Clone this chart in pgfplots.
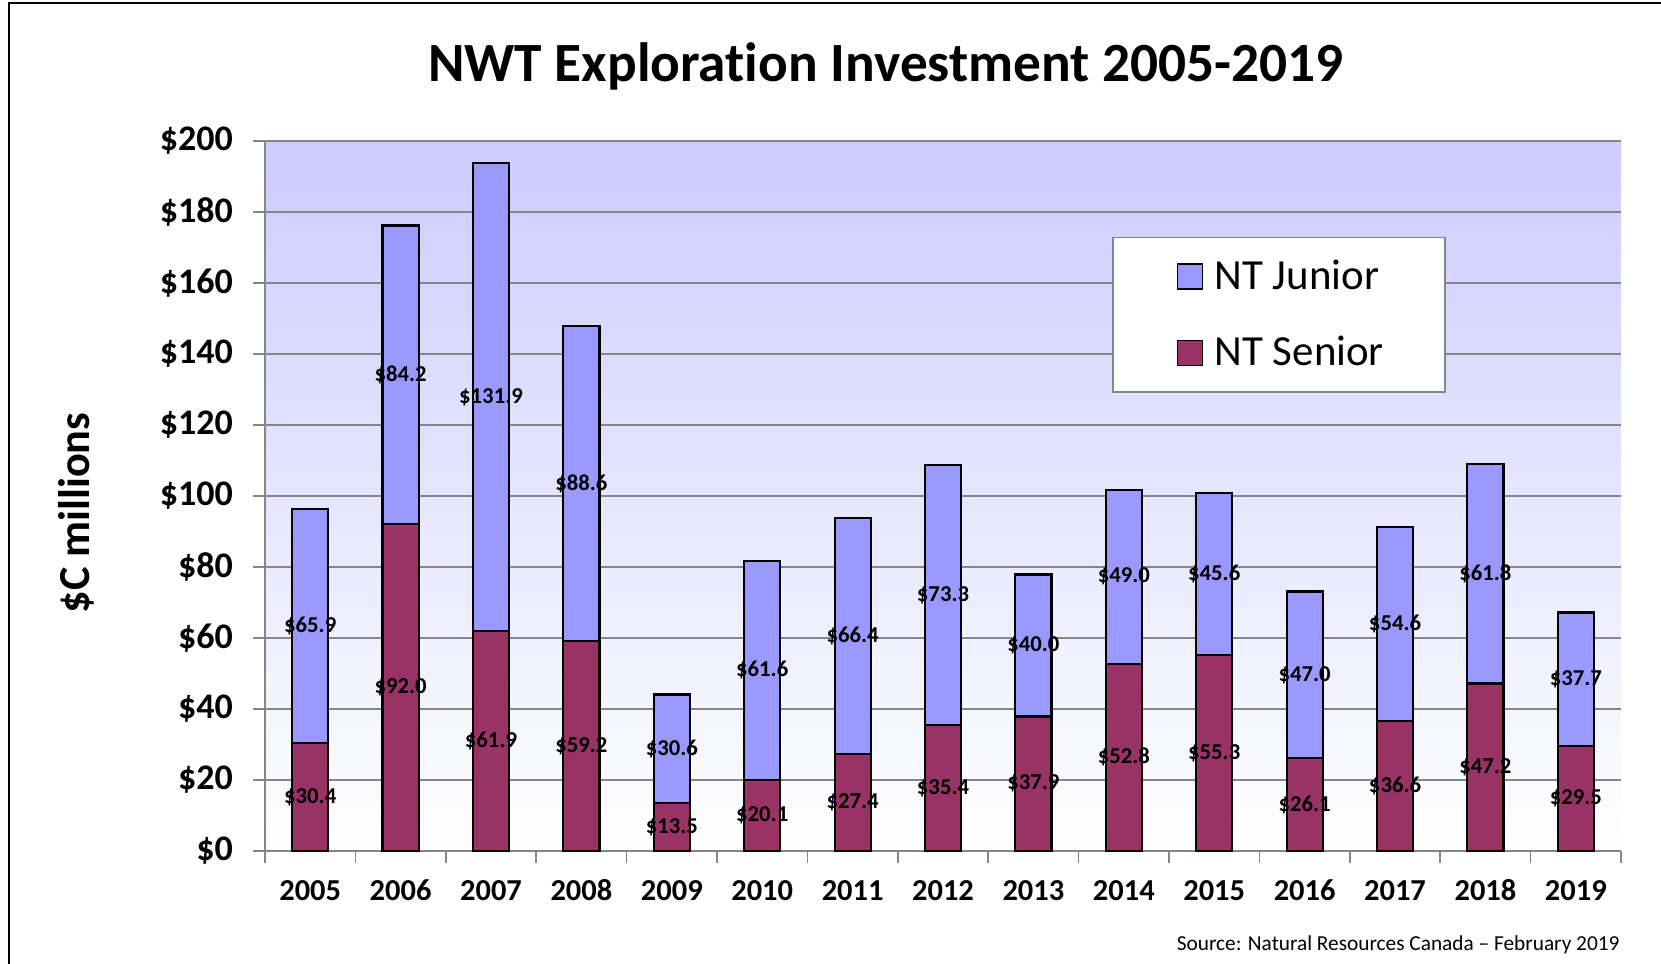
\documentclass[border=0pt]{standalone}
\usepackage{fontspec}
\setmainfont{Carlito}[Ligatures=NoCommon]
\usepackage{pgfplots}
\usepackage{pgfplotstable}
\pgfplotsset{compat=1.18}
\pgfkeys{/pgf/number format/assume math mode=true}
\definecolor{junior}{RGB}{153,153,255}
\definecolor{senior}{RGB}{153,51,102}
\definecolor{bgtop}{RGB}{204,204,255}
\definecolor{gridc}{RGB}{134,134,134}

\pgfplotstableread{
x s j
0 30.4 65.9
1 92.0 84.2
2 61.9 131.9
3 59.2 88.6
4 13.5 30.6
5 20.1 61.6
6 27.4 66.4
7 35.4 73.3
8 37.9 40.0
9 52.8 49.0
10 55.3 45.6
11 26.1 47.0
12 36.6 54.6
13 47.2 61.8
14 29.5 37.7
}\data

\begin{document}
\begin{tikzpicture}
\useasboundingbox (0,0) rectangle (600pt,-348.22pt);
\draw[black, line width=0.7pt] (3.25pt,-348.22pt) -- (3.25pt,-1.08pt) -- (600pt,-1.08pt);
\node[font=\fontsize{20}{24}\selectfont\bfseries] at (320.05pt,-23.9pt) {NWT Exploration Investment 2005-2019};
\node[rotate=90, font=\fontsize{16}{19}\selectfont\bfseries] at (27.45pt,-185.31pt) {\$C millions};
\node[anchor=base east, font=\fontsize{7.7}{9}\selectfont, inner sep=0pt] at (585.19pt,-343.42pt) {Source: Natural Resources Canada – February 2019};
\begin{axis}[
  at={(95.73pt,-307.41pt)}, anchor=south west,
  scale only axis, width=489.83pt, height=256.47pt,
  xmin=-0.5, xmax=14.5, ymin=0, ymax=200,
  axis lines*=left,
  axis line style={gridc, line width=0.8pt},
  axis background/.style={shade, top color=bgtop, bottom color=white},
  xtick={0,...,14},
  xticklabels={2005,2006,2007,2008,2009,2010,2011,2012,2013,2014,2015,2016,2017,2018,2019},
  major x tick style={draw=none},
  minor xtick={-0.5,0.5,...,14.5},
  ytick={0,20,...,200},
  yticklabels={\$0,\$20,\$40,\$60,\$80,\$100,\$120,\$140,\$160,\$180,\$200},
  tick align=outside,
  major tick length=4.3pt, minor tick length=4.3pt,
  tick style={gridc, line width=0.6pt},
  ymajorgrids, y grid style={gridc, line width=0.6pt},
  yticklabel style={font=\fontsize{13}{15}\selectfont\bfseries, xshift=-3.8pt},
  xticklabel style={font=\fontsize{11}{13}\selectfont\bfseries, text height=7.2pt, text depth=0pt, yshift=-3pt},
  legend style={at={(axis cs:8.87,173.1)}, anchor=north west, draw=gridc, fill=white,
    font=\fontsize{15.5}{18}\selectfont, inner xsep=20pt, inner ysep=6pt, row sep=11.5pt,
    line width=0.6pt},
  legend cell align=left,
  legend image code/.code={\path (0pt,0pt) (14pt,0pt); \draw[#1, draw=black, line width=0.6pt] (3pt,-4.5pt) rectangle (12pt,4.5pt);},
]
\addplot[ybar, bar width=0.4, bar shift=0pt, fill=junior, draw=black, line width=0.75pt]
  table[x=x, y expr=\thisrow{s}+\thisrow{j}] {\data};
\addlegendentry{NT Junior}
\addplot[ybar, bar width=0.4, bar shift=0pt, fill=senior, draw=black, line width=0.75pt]
  table[x=x, y=s] {\data};
\addlegendentry{NT Senior}
\addplot[draw=none, mark=none, forget plot, point meta=explicit,
  nodes near coords={\$\pgfmathprintnumber[fixed,fixed zerofill,precision=1]{\pgfplotspointmeta}},
  every node near coord/.append style={font=\fontsize{8.2}{9}\selectfont\bfseries, anchor=center, inner sep=0pt}]
  table[x=x, y expr=\thisrow{s}/2, meta=s] {\data};
\addplot[draw=none, mark=none, forget plot, point meta=explicit,
  nodes near coords={\$\pgfmathprintnumber[fixed,fixed zerofill,precision=1]{\pgfplotspointmeta}},
  every node near coord/.append style={font=\fontsize{8.2}{9}\selectfont\bfseries, anchor=center, inner sep=0pt}]
  table[x=x, y expr=\thisrow{s}+\thisrow{j}/2, meta=j] {\data};
\end{axis}
\end{tikzpicture}
\end{document}
